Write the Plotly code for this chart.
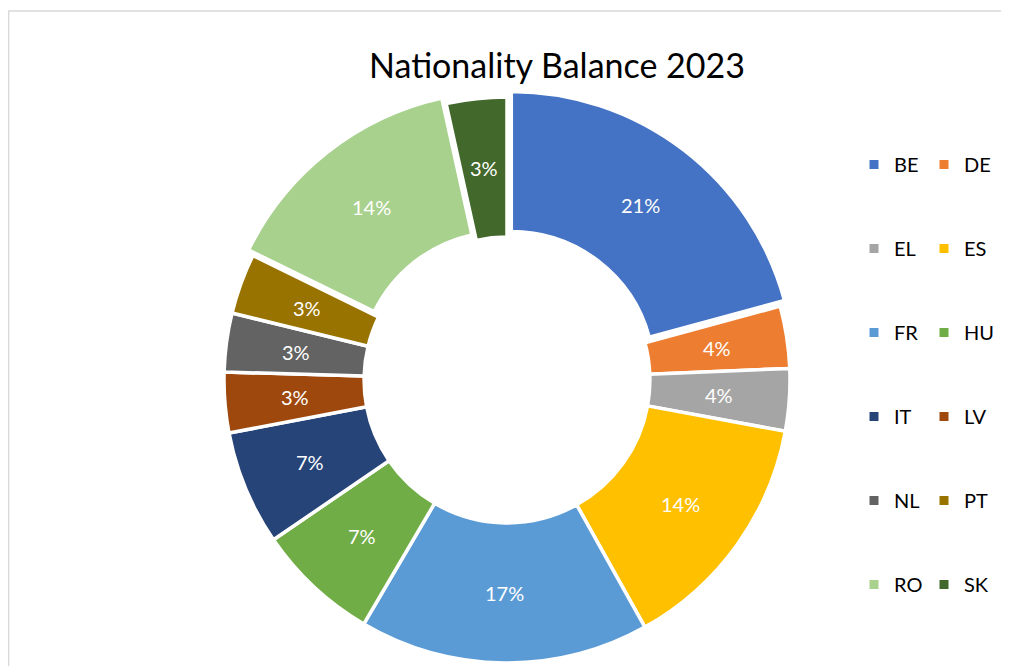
import math
import plotly.graph_objects as go

countries = ["BE", "DE", "EL", "ES", "FR", "HU", "IT", "LV", "NL", "PT", "RO", "SK"]
shares = [20.8, 3.55, 3.55, 14.0, 16.55, 7.0, 6.55, 3.45, 3.35, 3.45, 14.3, 3.45]
colors = ["#4472C4", "#ED7D31", "#A5A5A5", "#FFC000", "#5B9BD5", "#70AD47",
          "#264478", "#9E480E", "#636363", "#997300", "#A9D18E", "#43682B"]
pulls = [0.025, 0, 0, 0, 0, 0, 0, 0, 0, 0, 0.025, 0]

# page body has an 8px margin, so everything is laid out 8px up/left of the target
W, H = 1009, 700
FONT = "Lato"
CX, CY = 499, 372          # donut centre (figure px)
R = 283                    # outer radius of an unpulled slice
HOLE = 0.505
RR = R * (1 + max(pulls))  # half size of the pie domain

dom_x = [(CX - RR) / W, (CX + RR) / W]
dom_y = [(H - CY - RR) / H, (H - CY + RR) / H]

fig = go.Figure()
fig.add_trace(go.Pie(
    labels=countries,
    values=shares,
    sort=False,
    direction="clockwise",
    rotation=0,
    hole=HOLE,
    pull=pulls,
    marker=dict(colors=colors, line=dict(color="white", width=3.5)),
    textinfo="none",
    showlegend=False,
    domain=dict(x=dom_x, y=dom_y),
))

# percentage labels, centred mid-ring like the Excel original
total = sum(shares)
acc = 0
annotations = []
for v, p in zip(shares, pulls):
    mid = 2 * math.pi * (acc + v / 2) / total
    acc += v
    rad = R * (1 + HOLE) / 2 + p * R
    x = CX + rad * math.sin(mid)
    y = CY - rad * math.cos(mid)
    annotations.append(dict(
        x=x / W, y=1 - y / H, xref="paper", yref="paper", showarrow=False,
        xanchor="center", yanchor="middle",
        text=f"{100 * v / total:.0f}%",
        font=dict(family=FONT, size=20, color="white"),
    ))

# legend: two columns, built from dummy traces
for i, (c, col) in enumerate(zip(countries, colors)):
    fig.add_trace(go.Scatter(
        x=[None], y=[None], mode="markers", name=c,
        marker=dict(symbol="square", size=9, color=col),
        legend="legend" if i % 2 == 0 else "legend2",
        legendgroup=c,
    ))

leg = dict(
    orientation="v", yanchor="top", xanchor="left",
    font=dict(family=FONT, size=20, color="#000000"),
    tracegroupgap=55, bgcolor="rgba(0,0,0,0)",
)
fig.update_layout(
    width=W, height=H,
    margin=dict(l=0, r=0, t=0, b=0),
    paper_bgcolor="white", plot_bgcolor="white",
    font=dict(family=FONT),
    title=dict(text="Nationality Balance 2023", x=549 / W, xanchor="center",
               y=1 - 58 / H, yanchor="middle",
               font=dict(family=FONT, size=34, color="#000000")),
    xaxis=dict(visible=False), yaxis=dict(visible=False),
    legend=dict(leg, x=846 / W, y=1 - 137 / H),
    legend2=dict(leg, x=916 / W, y=1 - 137 / H),
    annotations=annotations,
    shapes=[dict(type="rect", xref="paper", yref="paper",
                 x0=0.6 / W, x1=1.2, y0=-0.2, y1=1 - 3 / H,
                 line=dict(color="#D9D9D9", width=1.5))],
)

fig.write_html("out.html")
